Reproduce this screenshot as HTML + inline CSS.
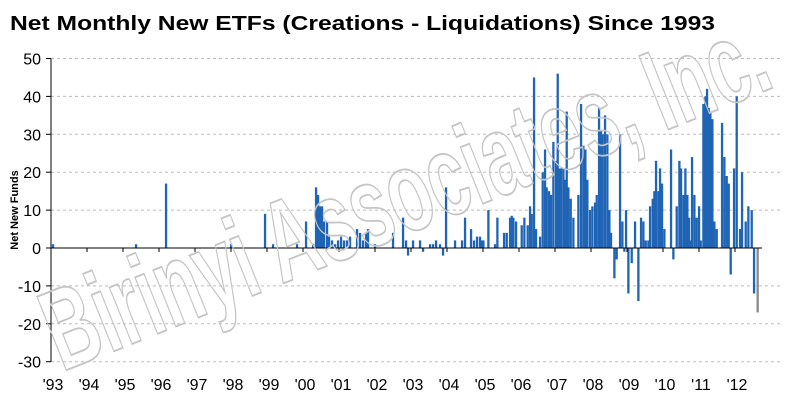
<!DOCTYPE html>
<html><head><meta charset="utf-8"><style>
html,body{margin:0;padding:0;background:#fff;width:800px;height:417px;overflow:hidden}
</style></head><body>
<svg id="s" width="800" height="417" xmlns="http://www.w3.org/2000/svg" font-family="Liberation Sans, sans-serif">
<text x="10" y="30" font-size="20" font-weight="bold" fill="#000" textLength="705" lengthAdjust="spacingAndGlyphs">Net Monthly New ETFs (Creations - Liquidations) Since 1993</text>
<g id="grid" stroke="#bbb" stroke-dasharray="3,3" stroke-width="1"></g>
<g id="bars" fill="#1f64b5"></g>
<g id="axes"></g>
<text transform="translate(18,210) rotate(-90)" font-size="11" font-weight="bold" text-anchor="middle">Net New Funds</text>
<text x="0" y="0" transform="translate(62,372) rotate(-21.8)" font-size="115" font-weight="bold" fill="none" stroke="#c4c4c4" stroke-width="1.8" textLength="770" lengthAdjust="spacingAndGlyphs">Birinyi Associates, Inc.</text>
</svg>
<script>
var ns="http://www.w3.org/2000/svg";
function el(p,t,a){var e=document.createElementNS(ns,t);for(var k in a)e.setAttribute(k,a[k]);document.getElementById(p).appendChild(e);return e;}
var y0=248,s=3.79;
function Y(v){return y0-v*s;}
for(var v=-30;v<=50;v+=10){
 if(v!=0) el('grid','line',{x1:51,x2:780,y1:Y(v),y2:Y(v)});
 el('axes','line',{x1:46,x2:51,y1:Y(v),y2:Y(v),stroke:'#000'});
 var t=el('axes','text',{x:41,y:Y(v)+6,'font-size':16,'text-anchor':'end'});t.textContent=v;
}
var pts=[[53,1],[136,1],[166,17],[231,1],[265,9],[273,1],[297,1],[306,7],[313,1],[316,16],[318,14],[320,11],[322,11],[324,7],[327,7],[329,3],[332,2],[335,1],[338,2],[341,3],[344,2],[347,2],[350,3],[357,5],[360,4],[363,2],[366,4],[368,5],[375,1],[393,4],[403,8],[406,2],[408,-2],[413,2],[420,2],[423,-1],[430,1],[433,1],[436,2],[440,1],[443,-2],[446,16],[455,2],[462,2],[465,8],[471,5],[474,2],[477,3],[480,3]];
var z=[[5,2],[10,2],[25,10],[45,1],[52,8],[72,4],[80,4],[90,8],[95,8.5],[100,8],[108,7],[125,6],[133,8],[143,6],[150,11],[155,9],[162,45],[168,5],[180,3],[188,20],[195,26],[200,16],[207,15],[213,14],[220,28],[228,23],[233,46],[238,21],[243,21],[250,21],[255,18],[260,36],[265,16],[272,13],[280,8],[295,14],[303,38],[310,27],[316,26],[322,18],[330,10],[337,11],[345,12],[350,14],[357,37],[363,31],[368,30],[375,35],[382,30],[388,10],[393,4],[403,-8],[410,-3],[420,30],[427,7],[433,-1],[438,10],[445,-12],[455,-4],[465,7],[475,-14],[483,8],[490,7],[497,2],[505,2],[510,11],[518,13],[523,15],[528,23],[535,15],[540,21],[546,17],[553,5],[573,26],[580,-3],[590,11],[598,23],[603,21],[610,14],[616,21],[622,14],[627,8],[633,2],[636,24],[643,14],[650,8],[657,11],[662,2],[670,38],[676,40],[681,42],[686,37],[691,36],[697,34],[703,7],[710,5],[726,33],[733,24],[740,19],[746,17],[752,-7],[762,21],[770,40],[780,5],[786,20],[797,7],[805,11],[815,10],[822,-12]];
z.forEach(function(p){pts.push([480+p[0]/3,p[1]]);});
pts.forEach(function(p){var x=p[0]-1.1,v=p[1];el('bars','rect',{x:x,width:2.3,y:v>=0?Y(v):y0,height:Math.abs(v)*s});});
el('bars','rect',{x:756.5,width:2.3,y:y0,height:17*s,fill:'#888'});
el('axes','line',{x1:51,x2:51,y1:Y(50),y2:Y(-30),stroke:'#000'});
el('axes','line',{x1:51,x2:762,y1:y0,y2:y0,stroke:'#000'});
var yrs=["'93","'94","'95","'96","'97","'98","'99","'00","'01","'02","'03","'04","'05","'06","'07","'08","'09","'10","'11","'12"];
for(var i=0;i<20;i++){var x=51+i*36;
 el('axes','line',{x1:x,x2:x,y1:y0,y2:y0+4,stroke:'#000'});
 var t=el('axes','text',{x:x+2,y:390,'font-size':16,'text-anchor':'middle'});t.textContent=yrs[i];}
</script>
</body></html>
